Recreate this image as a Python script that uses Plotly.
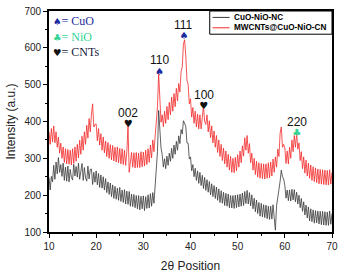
import plotly.graph_objects as go

# ---- data ----
two_theta_start = 10.0
two_theta_step = 0.25

cuo_nio_nc = [
    248, 214, 251, 236,  281, 243, 290, 258,  302, 262, 283, 251,  287, 240, 276, 238,  279, 236, 270, 248,
    241, 284, 252, 278,  249, 287, 243, 271,  286, 240, 275, 247,  238, 279, 244, 270,  271, 229, 262, 235,
    266, 228, 259, 221,  255, 219, 250, 214,  245, 207, 236, 202,  233, 196, 228, 191,  224, 189, 219, 186,
    221, 183, 214, 180,  215, 176, 211, 175,  210, 170, 203, 169,  202, 166, 199, 163,  199, 160, 197, 163,
    198, 158, 196, 164,  201, 165, 204, 170,  207, 178, 220, 262,  318, 430, 365, 328,  310, 276, 299, 272,
    306, 281, 314, 292,  327, 300, 336, 311,  346, 322, 361, 340,  378, 366, 402, 395,  387, 342, 341, 298,
    304, 266, 283, 250,  273, 240, 266, 232,  262, 226, 254, 218,  248, 213, 242, 208,  237, 201, 231, 196,
    226, 191, 222, 186,  217, 180, 212, 178,  208, 172, 205, 170,  203, 166, 199, 165,  199, 164, 200, 166,
    201, 168, 203, 170,  206, 172, 210, 177,  213, 176, 207, 171,  201, 163, 192, 155,  187, 150, 180, 143,
    178, 141, 174, 139,  173, 136, 170, 134,  170, 135, 174, 139,  105, 172, 190, 215,  238, 268, 250, 244,
    226, 192, 214, 185,  214, 184, 216, 187,  215, 182, 208, 176,  200, 166, 191, 156,  182, 146, 173, 138,
    168, 130, 163, 128,  160, 124, 158, 125,  157, 122, 156, 120,  156, 119, 155, 118,  154, 118, 157, 121,
    150,
]

mwcnts_cuo_nio_cn = [
    372, 338, 381, 345,  388, 342, 372, 330,  358, 314, 341, 300,  331, 289, 326, 285,  324, 284, 322, 282,
    326, 286, 331, 292,  338, 301, 349, 311,  360, 322, 372, 338,  390, 355, 408, 372,  420, 448, 385, 392,
    393, 348, 381, 336,  367, 322, 358, 315,  347, 305, 343, 300,  337, 296, 335, 293,  330, 290, 331, 288,
    327, 285, 326, 283,  322, 281, 318, 388,  262, 300, 316, 276,  315, 274, 316, 275,  314, 275, 318, 277,
    317, 279, 322, 283,  326, 289, 336, 301,  350, 318, 368, 395,  440, 530, 455, 398,  418, 386, 428, 395,
    441, 405, 452, 418,  466, 428, 476, 440,  490, 456, 503, 480,  535, 548, 610, 622,  578, 512, 500, 448,
    462, 412, 438, 395,  428, 385, 420, 380,  418, 380, 410, 442,  400, 392, 418, 372,  402, 356, 388, 342,
    374, 330, 362, 316,  350, 305, 338, 294,  328, 285, 320, 276,  311, 268, 305, 262,  300, 261, 303, 266,
    310, 276, 320, 288,  334, 306, 356, 322,  362, 314, 340, 288,  314, 268, 300, 256,  292, 249, 288, 246,
    286, 245, 285, 244,  285, 246, 288, 247,  290, 252, 298, 262,  304, 276, 325, 305,  368, 385, 330, 338,
    328, 286, 320, 285,  330, 300, 350, 318,  362, 330, 368, 325,  342, 294, 318, 272,  304, 260, 295, 252,
    287, 246, 282, 240,  277, 237, 274, 234,  271, 231, 270, 230,  269, 229, 268, 228,  267, 228, 269, 230,
    262,
]

two_theta = [two_theta_start + two_theta_step * i for i in range(len(cuo_nio_nc))]

series_names = ["CuO-NiO-NC", "MWCNTs@CuO-NiO-CN"]

peak_x = [33.4, 38.6, 26.8, 42.8, 62.5]
peak_y = [534, 630, 391, 440, 367]
peak_symbols = ["\u2660", "\u2660", "\u2665", "\u2665", "\u2663"]
peak_phase = ["CuO", "CuO", "CNTs", "CNTs", "NiO"]
peak_labels = ["110", "111", "002", "100", "220"]

phases = ["CuO", "NiO", "CNTs"]
phase_symbols = ["\u2660", "\u2663", "\u2665"]

# ---- styles ----
phase_colors = {"CuO": "#1c2a9e", "NiO": "#34d494", "CNTs": "#111111"}
phase_text_colors = {"CuO": "#1c2a9e", "NiO": "#34d494", "CNTs": "#1a1a3a"}
gray = "#3a3a3a"
red = "#f22a2a"

fig = go.Figure()

fig.add_trace(go.Scatter(x=two_theta, y=mwcnts_cuo_nio_cn, mode="lines",
                         line=dict(color=red, width=0.8), name=series_names[1],
                         showlegend=False))
fig.add_trace(go.Scatter(x=two_theta, y=cuo_nio_nc, mode="lines",
                         line=dict(color=gray, width=0.8), name=series_names[0],
                         showlegend=False))

# peak markers
fig.add_trace(go.Scatter(x=peak_x, y=peak_y, mode="text", text=peak_symbols,
                         textposition="middle center",
                         textfont=dict(size=10, family="DejaVu Sans",
                                       color=[phase_colors[p] for p in peak_phase]),
                         showlegend=False, hoverinfo="skip"))

for px_, py_, lab in zip(peak_x, peak_y, peak_labels):
    fig.add_annotation(x=px_, y=py_, text=lab, showarrow=False, yshift=12,
                       yanchor="middle", xanchor="center",
                       font=dict(family="Liberation Sans", size=12, color="#111111"))

# phase key (upper left)
key_y = [0.957, 0.884, 0.815]
for ph, sym, ky in zip(phases, phase_symbols, key_y):
    fig.add_annotation(xref="paper", yref="paper", x=0.006, y=ky,
                       xanchor="left", yanchor="middle", showarrow=False,
                       text=f"<span style='font-family:DejaVu Sans;font-size:9.5px;color:{phase_colors[ph]}'>{sym}</span>= {ph}",
                       font=dict(family="Liberation Serif", size=12, color=phase_text_colors[ph]))

# custom legend box (top right)
fig.add_shape(type="rect", xref="paper", yref="paper", x0=0.568, x1=1.0, y0=0.895, y1=1.0,
              line=dict(color="black", width=1), fillcolor="white", layer="above")
leg_y = [0.971, 0.924]
leg_col = [gray, red]
for nm, ly, lc in zip(series_names, leg_y, leg_col):
    fig.add_shape(type="line", xref="paper", yref="paper", x0=0.578, x1=0.638, y0=ly, y1=ly,
                  line=dict(color=lc, width=1), layer="above")
    fig.add_annotation(xref="paper", yref="paper", x=0.645, y=ly, xanchor="left", yanchor="middle",
                       showarrow=False, text=f"<b>{nm}</b>",
                       font=dict(family="Liberation Sans", size=8.2, color="black"))

axis_common = dict(showline=True, linecolor="black", linewidth=1.6, mirror=True,
                   ticks="outside", ticklen=4, tickwidth=1.2, tickcolor="black",
                   showgrid=False, zeroline=False,
                   tickfont=dict(family="Liberation Sans", size=10, color="#222222"))

fig.update_xaxes(range=[10, 70], dtick=10, tick0=10,
                 minor=dict(dtick=5, ticks="outside", ticklen=2, tickcolor="black", tickwidth=1),
                 title=dict(text="2\u03b8 Position", font=dict(family="Liberation Sans", size=12, color="#222222"),
                            standoff=11),
                 **axis_common)
fig.update_yaxes(range=[100, 700], dtick=100, tick0=100,
                 minor=dict(dtick=50, ticks="outside", ticklen=2, tickcolor="black", tickwidth=1),
                 title=dict(text="Intensity (a.u.)", font=dict(family="Liberation Sans", size=12, color="#222222"),
                            standoff=6),
                 **axis_common)

fig.update_layout(width=343, height=276, margin=dict(l=49, r=7, t=5, b=38),
                  plot_bgcolor="white", paper_bgcolor="white", showlegend=False)

fig.write_html("out.html", config={"displayModeBar": False},
               post_script="document.body.style.margin='0';document.body.style.overflow='hidden';")
